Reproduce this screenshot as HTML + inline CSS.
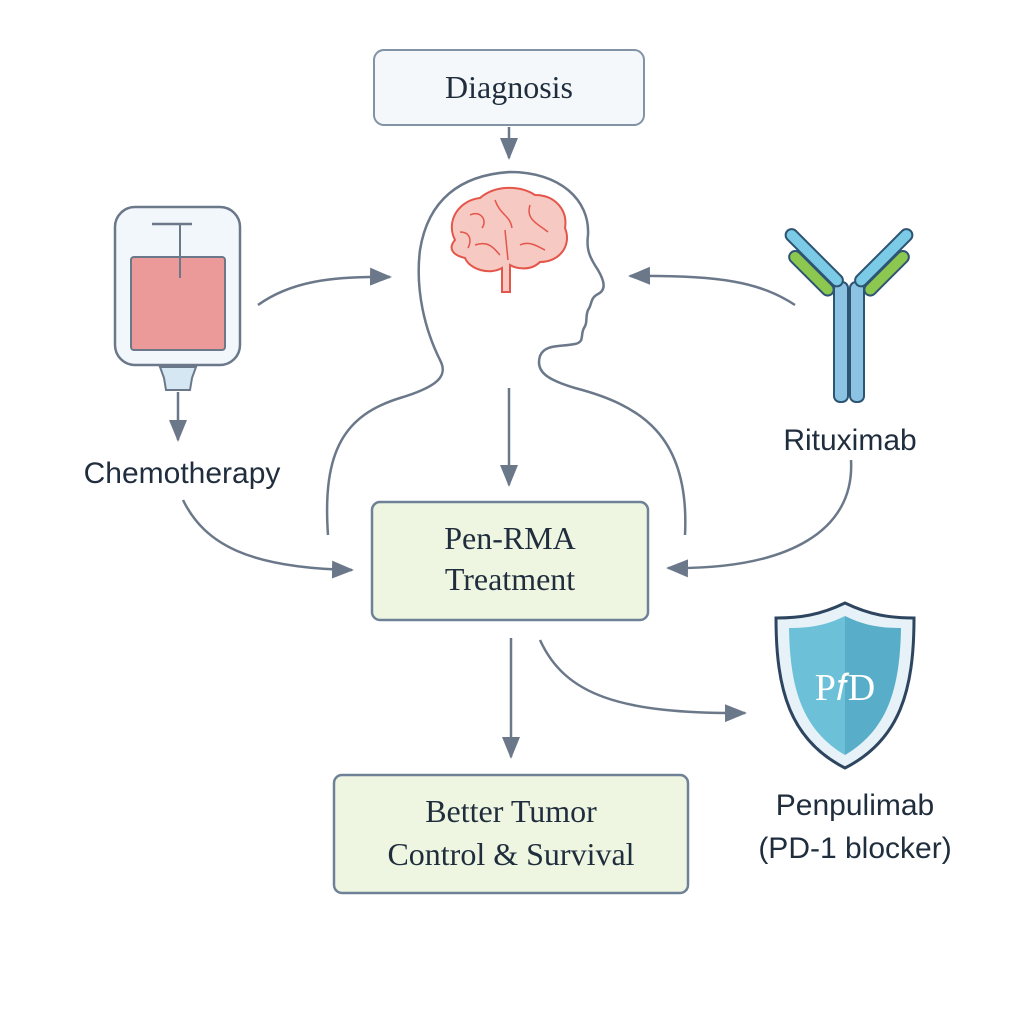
<!DOCTYPE html>
<html><head><style>
html,body{margin:0;padding:0;background:#fff}
svg{display:block}
.serif{font-family:"Liberation Serif",serif;fill:#1f2d3d}
.sans{font-family:"Liberation Sans",sans-serif;fill:#1f2d3d}
</style></head><body>
<svg width="1024" height="1024" viewBox="0 0 1024 1024" xmlns="http://www.w3.org/2000/svg">
<defs>
<marker id="b" markerWidth="24" markerHeight="24" refX="20" refY="12" orient="auto" markerUnits="userSpaceOnUse" viewBox="0 0 24 24">
<path d="M0,3 L22,12 L0,21 z" fill="#6b788a"/></marker>
<linearGradient id="sh" x1="0" x2="1"><stop offset="0" stop-color="#6cc0d8"/><stop offset="0.5" stop-color="#6cc0d8"/><stop offset="0.5" stop-color="#58aec8"/><stop offset="1" stop-color="#58aec8"/></linearGradient>
</defs>
<rect width="1024" height="1024" fill="#fff"/>

<rect x="374" y="50" width="270" height="75" rx="10" fill="#f5f8fb" stroke="#8393a6" stroke-width="2"/>
<text x="509" y="98" text-anchor="middle" class="serif" font-size="32">Diagnosis</text>
<line x1="509" y1="127" x2="509" y2="158" stroke="#6b788a" stroke-width="2.5" marker-end="url(#b)"/>

<path d="M328,535 C322,450 345,415 400,398 C440,386 448,375 440,360 C425,330 415,290 420,250 C428,200 460,175 510,172 C560,172 590,200 588,235 C586,250 590,258 598,270 C605,282 606,290 598,294 C590,298 592,305 588,310 C585,318 588,322 584,328 C580,335 585,342 575,344 C560,347 545,344 540,356 C535,372 548,380 575,388 C640,405 690,435 685,535" fill="none" stroke="#6b788a" stroke-width="2.5"/>

<g fill="#f7c9c3" stroke="#e4554a" stroke-width="2">
<path d="M455,240 C445,220 460,200 480,198 C495,185 520,185 535,195 C555,195 568,210 565,228 C572,245 560,262 540,262 C530,272 515,268 510,265 L510,292 L502,292 L502,268 C490,275 470,270 465,258 C452,255 448,248 455,240 z"/>
<path d="M470,215 C480,210 488,220 482,228 M495,200 C500,215 510,215 512,228 M530,205 C525,220 540,225 548,232 M505,230 L508,260 M475,245 C490,240 495,250 500,255 M520,245 C530,240 540,248 545,250 M460,232 C470,232 472,240 468,248" fill="none" stroke-width="1.5"/>
</g>

<rect x="115" y="207" width="125" height="158" rx="20" fill="#f2f7fb" stroke="#6b788a" stroke-width="2.5"/>
<rect x="131" y="257" width="94" height="93" rx="3" fill="#ec9a99" stroke="#6b788a" stroke-width="2"/>
<line x1="152" y1="224" x2="192" y2="224" stroke="#6b788a" stroke-width="2.5"/>
<line x1="180" y1="224" x2="180" y2="278" stroke="#6b788a" stroke-width="2"/>
<path d="M160,367 L196,367 L192,378 L190,390 L166,390 L164,378 z" fill="#d5e7f3" stroke="#6b788a" stroke-width="2"/>
<line x1="178" y1="392" x2="178" y2="440" stroke="#6b788a" stroke-width="2.5" marker-end="url(#b)"/>
<text x="182" y="483" text-anchor="middle" class="sans" font-size="30">Chemotherapy</text>
<path d="M258,305 C290,282 330,276 390,277" fill="none" stroke="#6b788a" stroke-width="2.5" marker-end="url(#b)"/>
<path d="M183,500 C205,545 250,568 352,570" fill="none" stroke="#6b788a" stroke-width="2.5" marker-end="url(#b)"/>

<rect x="372" y="502" width="276" height="118" rx="8" fill="#eef5e1" stroke="#6f8196" stroke-width="2.5"/>
<text x="510" y="549" text-anchor="middle" class="serif" font-size="32">Pen-RMA</text>
<text x="510" y="590" text-anchor="middle" class="serif" font-size="32">Treatment</text>
<line x1="509" y1="388" x2="509" y2="485" stroke="#6b788a" stroke-width="2.5" marker-end="url(#b)"/>

<g stroke="#2e5473" stroke-width="2">
<rect x="834" y="282" width="14" height="120" rx="6" fill="#8cc3e3"/>
<rect x="850" y="282" width="14" height="120" rx="6" fill="#8cc3e3"/>
<g transform="rotate(45 810 262)"><rect x="772" y="250" width="76" height="12" rx="6" fill="#7ccbe6"/><rect x="790" y="263" width="58" height="12" rx="6" fill="#8cc850"/></g>
<g transform="rotate(-45 888 262)"><rect x="850" y="250" width="76" height="12" rx="6" fill="#7ccbe6"/><rect x="850" y="263" width="58" height="12" rx="6" fill="#8cc850"/></g>
</g>
<text x="850" y="450" text-anchor="middle" class="sans" font-size="30">Rituximab</text>
<path d="M795,305 C760,282 720,275 630,276" fill="none" stroke="#6b788a" stroke-width="2.5" marker-end="url(#b)"/>
<path d="M851,460 C855,530 790,570 668,568" fill="none" stroke="#6b788a" stroke-width="2.5" marker-end="url(#b)"/>

<line x1="511" y1="638" x2="511" y2="757" stroke="#6b788a" stroke-width="2.5" marker-end="url(#b)"/>
<path d="M540,640 C565,695 620,714 745,713" fill="none" stroke="#6b788a" stroke-width="2.5" marker-end="url(#b)"/>

<rect x="334" y="775" width="354" height="118" rx="8" fill="#eef5e1" stroke="#6f8196" stroke-width="2.5"/>
<text x="511" y="822" text-anchor="middle" class="serif" font-size="32">Better Tumor</text>
<text x="511" y="865" text-anchor="middle" class="serif" font-size="32">Control &amp; Survival</text>

<path d="M845,603 C820,615 800,618 776,618 C776,690 790,740 845,768 C900,740 914,690 914,618 C890,618 870,615 845,603 z" fill="#e6f2f8" stroke="#2e4560" stroke-width="3"/>
<path d="M845,616 C825,626 808,628 789,628 C790,690 803,730 845,755 C887,730 900,690 901,628 C882,628 865,626 845,616 z" fill="url(#sh)"/>
<text x="845" y="700" text-anchor="middle" font-family="Liberation Serif,serif" font-size="38" fill="#fff">P𝑓D</text>
<text x="855" y="815" text-anchor="middle" class="sans" font-size="30">Penpulimab</text>
<text x="855" y="858" text-anchor="middle" class="sans" font-size="30">(PD-1 blocker)</text>
</svg>
</body></html>
